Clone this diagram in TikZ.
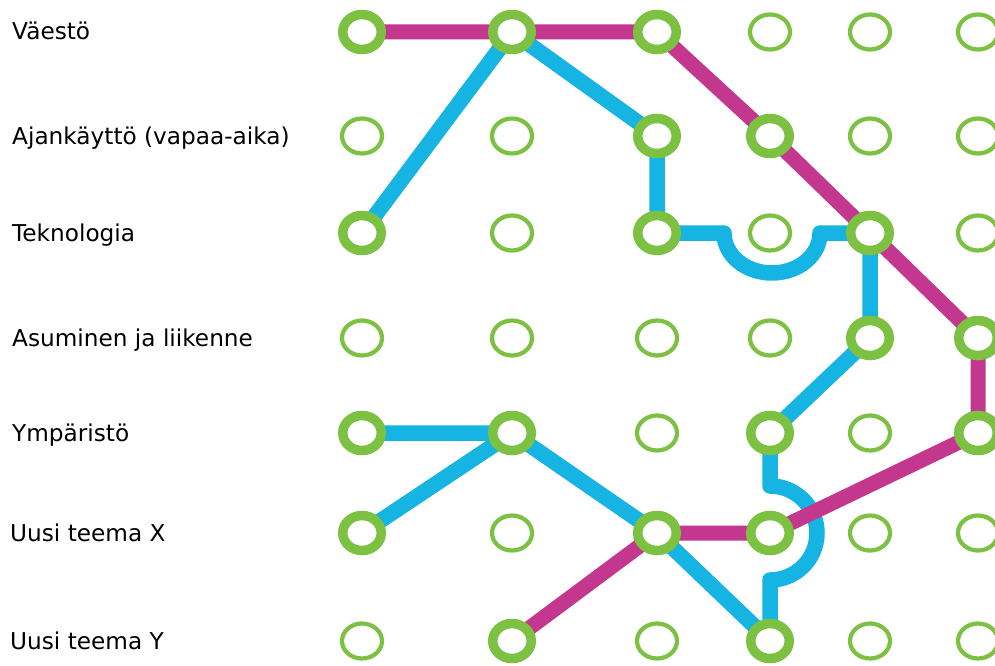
\documentclass[tikz,border=0pt]{standalone}
\usepackage{fontspec}
\setmainfont{DejaVu Sans}
\usetikzlibrary{shapes.geometric,backgrounds}
\definecolor{ringgreen}{HTML}{7CC142}
\definecolor{lineblue}{HTML}{16B4E2}
\definecolor{linemag}{HTML}{C3378E}
\begin{document}
\begin{tikzpicture}[x=1pt,y=1pt,
  ringon/.style={ellipse,draw=ringgreen,fill=white,line width=9.5pt,minimum width=38.5pt,minimum height=35pt,inner sep=0pt},
  ringoff/.style={ellipse,draw=ringgreen,fill=white,line width=4.2pt,minimum width=40pt,minimum height=35pt,inner sep=0pt},
  rowlabel/.style={anchor=base west,font=\fontsize{23.2}{28}\selectfont,text=black,inner sep=0pt},
  blueline/.style={draw=lineblue,line width=15.5pt,line join=round},
  magline/.style={draw=linemag,line width=15pt,line join=round}]
\useasboundingbox (0,0) rectangle (995,-666);
\clip (0,0) rectangle (995,-666);
% rings
\foreach \r/\y/\s in {
  1/32/{ringon,ringon,ringon,ringoff,ringoff,ringoff},
  2/136/{ringoff,ringoff,ringon,ringon,ringoff,ringoff},
  3/233/{ringon,ringoff,ringon,ringoff,ringon,ringoff},
  4/338/{ringoff,ringoff,ringoff,ringoff,ringon,ringon},
  5/433/{ringon,ringon,ringoff,ringon,ringoff,ringon},
  6/533/{ringon,ringoff,ringon,ringon,ringoff,ringoff},
  7/641/{ringoff,ringon,ringoff,ringon,ringoff,ringoff}}{
  \foreach \st [count=\c] in \s {
    \pgfmathsetmacro\cx{{362,512,657,770,870,978}[\c-1]}
    \node[\st] (n\r\c) at (\cx,-\y) {};
  }
}
% labels
\node[rowlabel] (l1) at (12,-40) {Väestö};
\node[rowlabel] (l2) at (12,-144) {Ajankäyttö (vapaa-aika)};
\node[rowlabel] (l3) at (12,-241) {Teknologia};
\node[rowlabel] (l4) at (12,-346) {Asuminen ja liikenne};
\node[rowlabel] (l5) at (12,-441) {Ympäristö};
\node[rowlabel] (l6) at (10,-541) {Uusi teema X};
\node[rowlabel] (l7) at (10,-649) {Uusi teema Y};
% connectors
\begin{pgfonlayer}{background}
\fill[white] (0,0) rectangle (995,-666);
\coordinate (b1) at (724,-233);
\coordinate (b2) at (770,-486);
\draw[blueline] (n31.center) -- (n12.center) -- (n23.center) -- (n33.center) -- (b1)
  arc[start angle=180,end angle=360,x radius=48pt,y radius=40pt] -- (n35.center)
  -- (n45.center) -- (n54.center) -- (b2)
  arc[start angle=90,end angle=-90,radius=47pt] -- (n74.center);
\draw[blueline] (n51.center) -- (n52.center) -- (n63.center) -- (n74.center);
\draw[blueline] (n61.center) -- (n52.center);
\draw[magline] (n11.center) -- (n12.center) -- (n13.center) -- (n24.center)
  -- (n35.center) -- (n46.center) -- (n56.center) -- (n64.center)
  -- (n63.center) -- (n72.center);
\end{pgfonlayer}
\end{tikzpicture}
\end{document}
